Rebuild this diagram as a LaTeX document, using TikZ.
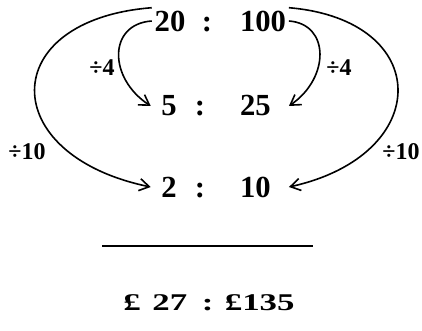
\documentclass[tikz,border=0pt]{standalone}
\usepackage{fontspec}
\setmainfont{Liberation Serif}
\usetikzlibrary{arrows.meta}
\tikzset{
  lnum/.style={font=\fontsize{23}{25}\selectfont\bfseries, text width=23pt, align=center, inner sep=2pt},
  rnum/.style={font=\fontsize{23}{25}\selectfont\bfseries, text width=34.5pt, align=left, inner sep=2pt},
  colon/.style={font=\fontsize{23}{25}\selectfont\bfseries, inner sep=0pt, anchor=base},
  divlab/.style={font=\fontsize{18}{20}\selectfont\bfseries, inner sep=1pt},
  arr/.style={-{Straight Barb[length=2.6mm, width=3.2mm]}, line width=1.2pt},
}
\begin{document}
\begin{tikzpicture}[x=0.75pt, y=-0.75pt]
\useasboundingbox (0,0) rectangle (422,331);
% the three ratios
\node[lnum] (n20) at (170,21) {20};
\node[rnum] (n100) at (263,21) {100};
\node[lnum] (n5) at (169,106) {5};
\node[rnum] (n25) at (263,106) {25};
\node[lnum] (n2) at (169,187) {2};
\node[rnum] (n10) at (263,187) {10};
\node[colon] (c1) at (207,0 |- n20.base) {:};
\node[colon] (c2) at (200,0 |- n5.base) {:};
\node[colon] (c3) at (200,0 |- n2.base) {:};
% dividing arrows
\draw[arr] (n20.north west) .. controls (-4,20) and (-4,155) .. (n2.west);
\draw[arr] (n20.west) .. controls (108,24) and (108,78) .. (n5.west);
\draw[arr] (n100.east) .. controls (330,24) and (330,78) .. (n25.east);
\draw[arr] (n100.north east) .. controls (434,20) and (434,155) .. (n10.east);
\node[divlab] (d4l) at (102,68) {÷4};
\node[divlab] (d4r) at (339,68) {÷4};
\node[divlab] (d10l) at (27,152) {÷10};
\node[divlab] (d10r) at (401,152) {÷10};
% rule and answer
\coordinate (rl) at (102,246);
\coordinate (rr) at (313,246);
\draw[line width=1.3pt] (rl) -- (rr);
\node[font=\fontsize{18}{20}\selectfont\bfseries] (ans) at (209,303) {\scalebox{1.45}[1]{£\,\,27 \,: £135}};
\end{tikzpicture}
\end{document}
